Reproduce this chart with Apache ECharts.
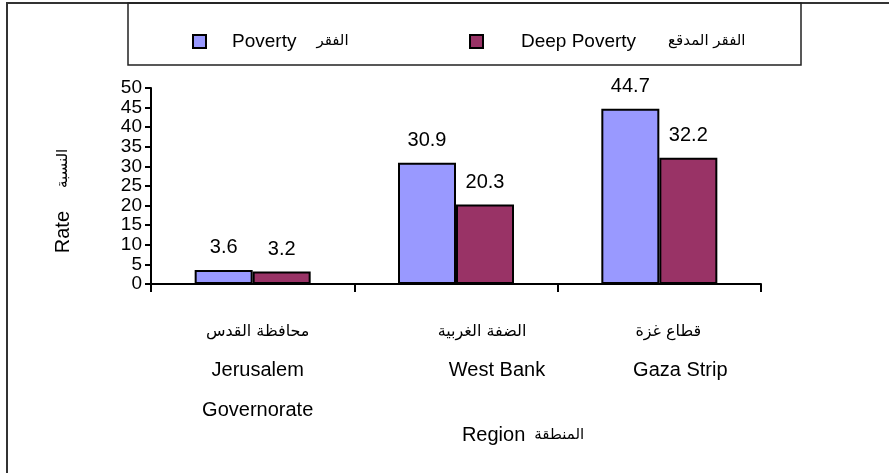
<!DOCTYPE html>
<html>
<head>
<meta charset="UTF-8">
<script src="https://cdn.jsdelivr.net/npm/echarts@6/dist/echarts.min.js"></script>
<style>
  html, body { margin: 0; padding: 0; background: #fff; }
  #chart { width: 889px; height: 473px; }
</style>
</head>
<body>
<div id="chart"></div>
<script>
// data
var categoriesEn = [['Jerusalem', 'Governorate'], ['West Bank'], ['Gaza Strip']];
var categoriesAr = ['محافظة القدس', 'الضفة الغربية', 'قطاع غزة'];
var poverty = [3.6, 30.9, 44.7];
var deepPoverty = [3.2, 20.3, 32.2];
var seriesNames = ['Poverty', 'Deep Poverty'];
var seriesNamesAr = ['الفقر', 'الفقر المدقع'];
var yMin = 0, yMax = 50, yStep = 5;

var latin = "'Liberation Sans', Arial, sans-serif";
var arab = "'DejaVu Sans', sans-serif";

// label shifts per category (labels in the original are not centred on the bars)
var enShift = [10, 82, 42];
var arShift = [10, 52, 18];
var labelRich = {};
for (var i = 0; i < 3; i++) {
    labelRich['a' + i] = { fontFamily: arab, fontSize: 16, color: '#000', lineHeight: 36, padding: [0, 0, 0, arShift[i]] };
    labelRich['e' + i] = { fontFamily: latin, fontSize: 20, color: '#000', lineHeight: 40, padding: [0, 0, 0, enShift[i]] };
}

var chart = echarts.init(document.getElementById('chart'));
chart.setOption({
    animation: false,
    backgroundColor: '#fff',
    textStyle: { fontFamily: latin },
    graphic: [
        { type: 'rect', shape: { x: 7, y: 3, width: 1000, height: 1000 }, style: { fill: 'none', stroke: '#333', lineWidth: 2 }, z: 0 },
        { type: 'rect', shape: { x: 128, y: 3, width: 673, height: 62 }, style: { fill: 'none', stroke: '#222', lineWidth: 1.5 }, z: 0 }
    ],
    legend: [
        {
            data: [seriesNames[0]], left: 187, top: 27, itemWidth: 13, itemHeight: 13, icon: 'rect',
            formatter: function (n) { return '{en|' + n + '}{ar|' + seriesNamesAr[0] + '}'; },
            textStyle: { rich: {
                en: { fontFamily: latin, fontSize: 19, color: '#000', padding: [0, 0, 0, 21] },
                ar: { fontFamily: arab, fontSize: 15, color: '#000', padding: [0, 0, 0, 20] }
            } }
        },
        {
            data: [seriesNames[1]], left: 464, top: 27, itemWidth: 13, itemHeight: 13, icon: 'rect',
            formatter: function (n) { return '{en|' + n + '}{ar|' + seriesNamesAr[1] + '}'; },
            textStyle: { rich: {
                en: { fontFamily: latin, fontSize: 19, color: '#000', padding: [0, 0, 0, 33] },
                ar: { fontFamily: arab, fontSize: 15, color: '#000', padding: [0, 0, 0, 32] }
            } }
        }
    ],
    grid: { left: 151, right: 128, top: 88, bottom: 189, containLabel: false },
    xAxis: {
        type: 'category',
        data: categoriesEn.map(function (c) { return c.join(' '); }),
        axisLine: { lineStyle: { color: '#000', width: 2 } },
        axisTick: { show: true, alignWithLabel: false, interval: 0, length: 8, lineStyle: { color: '#000', width: 2 } },
        axisLabel: {
            interval: 0, margin: 30,
            formatter: function (v, idx) {
                var s = '{a' + idx + '|' + categoriesAr[idx] + '}';
                categoriesEn[idx].forEach(function (w) { s += '\n{e' + idx + '|' + w + '}'; });
                return s;
            },
            rich: labelRich
        },
        name: '{r|Region}{a|المنطقة}',
        nameLocation: 'middle',
        nameGap: 141,
        nameTextStyle: { rich: {
            r: { fontFamily: latin, fontSize: 20, color: '#000', lineHeight: 20, padding: [0, 0, 0, 134] },
            a: { fontFamily: arab, fontSize: 15, color: '#000', lineHeight: 20, padding: [0, 0, 0, 9] }
        } }
    },
    yAxis: {
        type: 'value', min: yMin, max: yMax, interval: yStep,
        splitLine: { show: false },
        axisLine: { show: true, lineStyle: { color: '#000', width: 2 } },
        axisTick: { show: true, length: 6, lineStyle: { color: '#000', width: 2 } },
        axisLabel: { fontSize: 19, lineHeight: 19, color: '#000', margin: 9, fontFamily: latin,
            showMinLabel: true, showMaxLabel: true, hideOverlap: false },
        name: '{r|Rate}{a|النسبة}',
        nameLocation: 'middle',
        nameRotate: 90,
        nameGap: 78,
        nameTextStyle: { rich: {
            r: { fontFamily: latin, fontSize: 20, color: '#000', lineHeight: 20 },
            a: { fontFamily: arab, fontSize: 15, color: '#000', lineHeight: 20, padding: [0, 30, 0, 23] }
        } }
    },
    series: [
        {
            name: seriesNames[0], type: 'bar', data: poverty, barWidth: 58, barGap: '0%',
            itemStyle: { color: '#9999FF', borderColor: '#000', borderWidth: 2 },
            label: { show: true, position: 'top', distance: 12, fontSize: 20, color: '#000', fontFamily: latin }
        },
        {
            name: seriesNames[1], type: 'bar', data: deepPoverty, barWidth: 58, barGap: '0%',
            itemStyle: { color: '#993366', borderColor: '#000', borderWidth: 2 },
            label: { show: true, position: 'top', distance: 12, fontSize: 20, color: '#000', fontFamily: latin }
        }
    ]
});
</script>
</body>
</html>
